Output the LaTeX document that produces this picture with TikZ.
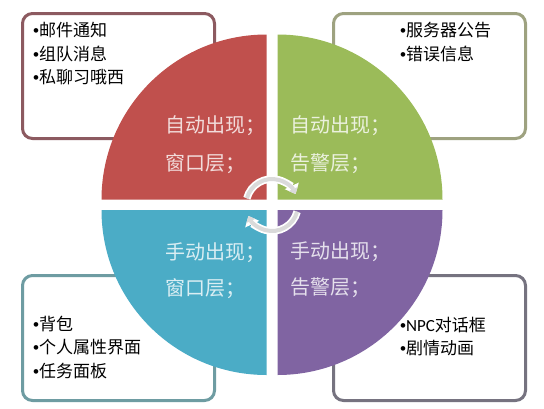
\documentclass[tikz,border=0pt]{standalone}
\usepackage{fontspec}
\newfontfamily\cjk{Noto Sans CJK SC}
\newfontfamily\latf{Liberation Sans}
\newfontfamily\calf{Carlito}
\newcommand{\bul}{{\latf •}}
\usetikzlibrary{arrows.meta}
\definecolor{qred}{RGB}{192,80,77}
\definecolor{qgreen}{RGB}{155,187,89}
\definecolor{qblue}{RGB}{75,172,198}
\definecolor{qpurple}{RGB}{128,100,162}
\definecolor{tred}{RGB}{242,220,219}
\definecolor{tgreen}{RGB}{235,241,222}
\definecolor{tblue}{RGB}{218,238,243}
\definecolor{tpurple}{RGB}{229,224,236}
\definecolor{bred}{RGB}{140,90,96}
\definecolor{bgreen}{RGB}{158,162,128}
\definecolor{bblue}{RGB}{110,156,162}
\definecolor{bpurple}{RGB}{118,115,128}
\definecolor{arrc}{RGB}{218,218,218}
\begin{document}
\begin{tikzpicture}[x=1pt,y=-1pt,
  listbox/.style={draw, line width=3pt, rounded corners=10pt, fill=white,
    anchor=north west, minimum width=192pt, minimum height=125pt, inner sep=0pt},
  qtext/.style={font=\cjk\fontsize{20}{24}\selectfont, anchor=base west, inner sep=0pt},
  ltext/.style={font=\cjk\fontsize{17}{20}\selectfont, anchor=base west, inner sep=0pt, text=black},
  cycouter/.style={line width=7.5pt, draw=white, -{Triangle[width=15pt,length=9pt]}},
  cycinner/.style={line width=4pt, draw=arrc, -{Triangle[width=9.5pt,length=5.5pt]}}
]
\useasboundingbox (0,0) rectangle (544,408);
\fill[white] (0,0) rectangle (544,408);

% list boxes (behind the circle)
\node[listbox, draw=bred] (boxr) at (21,12) {};
\node[listbox, draw=bgreen] (boxg) at (332,12) {};
\node[listbox, draw=bblue] (boxb) at (21,274) {};
\node[listbox, draw=bpurple] (boxp) at (332,274) {};

% quadrants
\fill[qred] (266.5,199.5) -- ++(-165,0) arc[start angle=180, end angle=270, radius=165] -- cycle;
\fill[qgreen] (277.5,199.5) -- ++(0,-165) arc[start angle=270, end angle=360, radius=165] -- cycle;
\fill[qblue] (266.5,210) -- ++(-165,0) arc[start angle=180, end angle=90, radius=165] -- cycle;
\fill[qpurple] (277.5,210) -- ++(165,0) arc[start angle=0, end angle=90, radius=165] -- cycle;

% quadrant texts
\node[qtext, text=tred] (qr1) at (165,132) {自动出现；};
\node[qtext, text=tred] (qr2) at (165,170) {窗口层；};
\node[qtext, text=tgreen] (qg1) at (290,132) {自动出现；};
\node[qtext, text=tgreen] (qg2) at (290,170) {告警层；};
\node[qtext, text=tblue] (qb1) at (165,259) {手动出现；};
\node[qtext, text=tblue] (qb2) at (165,295) {窗口层；};
\node[qtext, text=tpurple] (qp1) at (290,258) {手动出现；};
\node[qtext, text=tpurple] (qp2) at (290,294) {告警层；};

% list texts
\node[ltext] (r1) at (33,36) {\bul 邮件通知};
\node[ltext] (r2) at (33,60) {\bul 组队消息};
\node[ltext] (r3) at (33,83) {\bul 私聊习哦西};
\node[ltext] (g1) at (400,36) {\bul 服务器公告};
\node[ltext] (g2) at (400,60) {\bul 错误信息};
\node[ltext] (b1) at (33,330) {\bul 背包};
\node[ltext] (b2) at (33,353) {\bul 个人属性界面};
\node[ltext] (b3) at (33,377) {\bul 任务面板};
\node[ltext] (p1) at (400,331) {\bul{\calf NPC}对话框};
\node[ltext] (p2) at (400,354) {\bul 剧情动画};

% cycle arrows
\coordinate (ctr) at (272,205);
\draw[cycouter] (ctr) ++(195:26) arc[start angle=195, end angle=335, radius=26];
\draw[cycouter] (ctr) ++(15:26) arc[start angle=15, end angle=155, radius=26];
\draw[cycinner] (ctr) ++(195:26) arc[start angle=195, end angle=335, radius=26];
\draw[cycinner] (ctr) ++(15:26) arc[start angle=15, end angle=155, radius=26];
\end{tikzpicture}
\end{document}
